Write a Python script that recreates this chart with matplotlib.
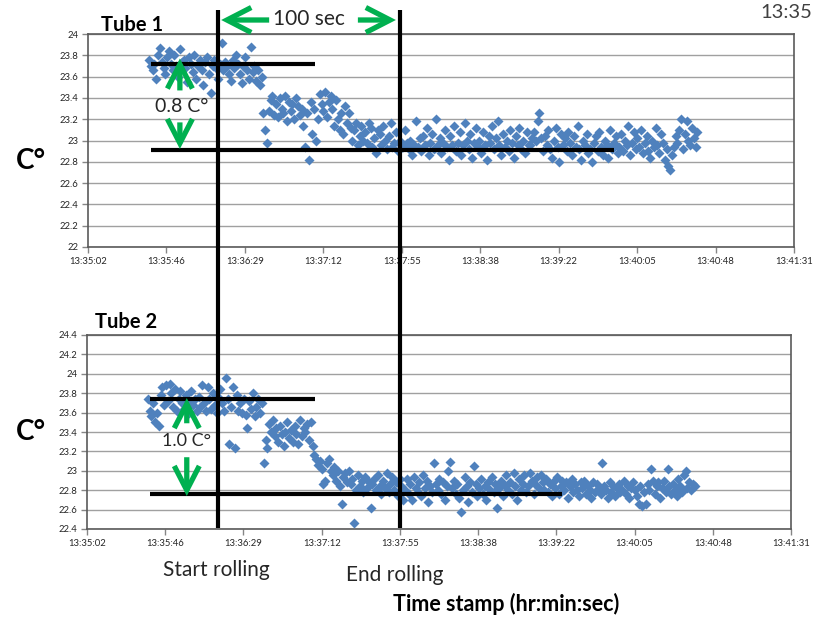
import numpy as np
import matplotlib.pyplot as plt
import matplotlib.transforms as mtransforms
from matplotlib.patches import FancyArrowPatch
from matplotlib.lines import Line2D

plt.rcParams["font.family"] = ["Lato", "DejaVu Sans"]

# time axis: seconds after 13:35:00, one sample per second
t_start = 36
x_ticks = [2.4 + 43.2 * k for k in range(10)]
x_labels = ["13:35:02", "13:35:46", "13:36:29", "13:37:12", "13:37:55",
            "13:38:38", "13:39:22", "13:40:05", "13:40:48", "13:41:31"]

tube1 = [
    23.76, 23.70, 23.66, 23.72, 23.58, 23.80, 23.87, 23.74, 23.68, 23.62,
    23.78, 23.84, 23.72, 23.66, 23.80, 23.70, 23.60, 23.86, 23.74, 23.76,
    23.68, 23.55, 23.78, 23.72, 23.64, 23.80, 23.58, 23.70, 23.76, 23.66,
    23.52, 23.74, 23.78, 23.62, 23.45, 23.70, 23.76, 23.68, 23.58, 23.72,
    23.92, 23.66, 23.74, 23.70, 23.62, 23.56, 23.76, 23.68, 23.80, 23.72,
    23.62, 23.54, 23.70, 23.78, 23.66, 23.58, 23.88, 23.64, 23.70, 23.56,
    23.66, 23.52, 23.60, 23.26, 23.10, 22.98, 23.28, 23.38, 23.42, 23.24,
    23.34, 23.22, 23.40, 23.30, 23.26, 23.42, 23.18, 23.36, 23.28, 23.34,
    23.20, 23.40, 23.32, 23.24, 23.30, 23.14, 22.94, 23.26, 22.82, 23.36,
    23.06, 23.30, 23.00, 23.20, 23.44, 23.34, 23.28, 23.46, 23.22, 23.36,
    23.42, 23.30, 23.14, 23.38, 23.20, 23.10, 23.26, 23.06, 23.32, 23.16,
    23.26, 23.12, 23.00, 23.10, 23.16, 22.96, 23.04, 23.14, 23.00, 23.08,
    22.98, 23.16, 23.12, 22.94, 23.02, 22.88, 23.10, 23.06, 22.96, 23.14,
    23.00, 22.92, 23.04, 23.16, 22.94, 22.98, 23.08, 22.90, 23.00, 22.96,
    22.94, 23.10, 22.98, 22.92, 23.00, 22.86, 22.96, 23.18, 22.94, 23.02,
    22.90, 23.04, 22.96, 23.12, 22.86, 22.98, 23.06, 22.92, 23.20, 22.96,
    23.02, 22.88, 22.98, 23.10, 22.94, 22.82, 23.04, 22.96, 23.14, 22.90,
    22.98, 23.08, 22.86, 22.96, 23.16, 23.00, 22.92, 23.06, 22.84, 22.98,
    23.12, 22.94, 23.00, 22.88, 23.08, 22.96, 22.82, 23.04, 22.98, 23.14,
    22.92, 23.02, 23.18, 22.96, 22.86, 23.06, 22.94, 23.00, 22.90, 23.10,
    22.98, 22.84, 23.04, 22.96, 23.12, 22.92, 23.00, 22.88, 23.08, 22.96,
    22.96, 23.02, 23.08, 23.00, 23.18, 23.26, 23.02, 22.90, 23.04, 22.96,
    23.10, 22.92, 22.84, 23.00, 23.12, 22.94, 22.80, 23.06, 22.96, 23.02,
    22.90, 23.08, 22.98, 22.86, 23.04, 22.94, 23.14, 22.92, 22.82, 23.00,
    22.96, 23.06, 22.88, 22.92, 22.80, 22.98, 23.04, 22.90, 23.08, 22.94,
    22.86, 23.00, 22.96, 22.84, 23.10, 22.92, 22.98, 23.04, 22.88, 22.94,
    23.06, 22.90, 23.00, 22.96, 23.14, 22.86, 22.98, 23.08, 22.92, 23.02,
    22.94, 23.10, 22.88, 22.98, 23.04, 22.90, 22.84, 23.00, 22.94, 23.12,
    22.96, 22.88, 23.06, 22.98, 22.82, 22.92, 22.76, 22.72, 22.86, 22.94,
    23.04, 22.98, 23.10, 23.20, 22.92, 23.06, 23.18, 23.00, 22.96, 23.12,
    23.02, 22.94, 23.08,
]

tube2 = [
    23.74, 23.62, 23.56, 23.70, 23.50, 23.60, 23.46, 23.78, 23.86, 23.68,
    23.88, 23.72, 23.90, 23.80, 23.66, 23.84, 23.62, 23.74, 23.82, 23.70,
    23.64, 23.78, 23.72, 23.60, 23.82, 23.68, 23.74, 23.62, 23.76, 23.66,
    23.88, 23.70, 23.62, 23.86, 23.74, 23.64, 23.80, 23.68, 23.60, 23.76,
    23.84, 23.70, 23.62, 23.96, 23.74, 23.28, 23.66, 23.86, 23.24, 23.78,
    23.62, 23.70, 23.60, 23.74, 23.58, 23.44, 23.72, 23.64, 23.80, 23.56,
    23.66, 23.74, 23.60, 23.70, 23.08, 23.32, 23.24, 23.48, 23.40, 23.52,
    23.36, 23.44, 23.30, 23.46, 23.38, 23.26, 23.40, 23.50, 23.34, 23.42,
    23.30, 23.46, 23.38, 23.28, 23.52, 23.36, 23.44, 23.40, 23.48, 23.32,
    23.50, 23.26, 23.16, 23.12, 23.06, 23.10, 23.02, 22.86, 22.90, 23.08,
    23.12, 23.00, 22.96, 23.04, 22.90, 23.00, 22.84, 22.66, 22.94, 22.98,
    22.88, 23.00, 22.86, 22.92, 22.46, 22.80, 22.96, 22.84, 22.90, 22.78,
    22.94, 22.82, 22.88, 22.62, 22.86, 22.92, 22.80, 22.96, 22.84, 22.76,
    22.90, 22.82, 22.98, 22.78, 22.86, 22.94, 22.80, 22.88, 22.74, 22.92,
    22.84, 22.70, 22.80, 22.92, 22.76, 22.86, 22.70, 22.94, 22.82, 22.78,
    22.88, 22.74, 22.96, 22.82, 22.90, 22.68, 22.84, 22.78, 23.08, 22.86,
    22.80, 22.92, 22.76, 22.88, 22.70, 22.84, 23.00, 23.09, 22.82, 22.90,
    22.76, 22.86, 22.72, 22.58, 22.80, 22.94, 22.84, 22.68, 22.88, 22.78,
    23.05, 22.86, 22.74, 22.82, 22.92, 22.76, 22.84, 22.70, 22.88, 22.80,
    22.94, 22.78, 22.86, 22.62, 22.82, 22.90, 22.74, 22.84, 22.96, 22.80,
    22.88, 22.76, 22.98, 22.84, 22.70, 22.92, 22.80, 22.86, 22.96, 22.78,
    22.84, 22.98, 22.90, 22.76, 22.86, 22.94, 22.82, 22.96, 22.88, 22.80,
    22.92, 22.78, 22.86, 22.74, 22.88, 22.82, 22.94, 22.76, 22.84, 22.90,
    22.80, 22.88, 22.72, 22.84, 22.92, 22.78, 22.86, 22.80, 22.74, 22.88,
    22.82, 22.90, 22.76, 22.84, 22.80, 22.72, 22.88, 22.78, 22.86, 22.82,
    22.76, 23.08, 22.84, 22.80, 22.72, 22.88, 22.78, 22.84, 22.74, 22.82,
    22.86, 22.78, 22.80, 22.90, 22.76, 22.84, 22.72, 22.82, 22.88, 22.80,
    22.74, 22.66, 22.84, 22.64, 22.78, 22.66, 22.86, 22.80, 23.02, 22.90,
    22.76, 22.84, 22.88, 22.72, 22.82, 22.90, 22.78, 23.02, 22.84, 22.76,
    22.86, 22.80, 22.74, 22.92, 22.84, 22.78, 22.96, 23.00, 22.82, 22.88,
    22.80, 22.86, 22.84,
]

# event markers (seconds after 13:35:00) and reference levels
start_roll, end_roll = 75, 175
tube1_levels = [23.72, 22.91]
tube2_levels = [23.74, 22.76]

W, H = 817, 617
fig = plt.figure(figsize=(W / 100, H / 100), dpi=100)


def fx(p):
    return p / W


def fy(p):
    return 1 - p / H


ax1 = fig.add_axes([fx(88), fy(247), fx(794) - fx(88), fy(34) - fy(247)])
ax2 = fig.add_axes([fx(87), fy(529), fx(791) - fx(87), fy(335) - fy(529)])

blue = "#4F81BD"
green = "#00B050"
ink = "#262626"

for ax, vals, ylo, yhi in [(ax1, tube1, 22.0, 24.0), (ax2, tube2, 22.4, 24.4)]:
    t = t_start + np.arange(len(vals))
    ax.plot(t, vals, "D", color=blue, ms=4.6, mec="none", zorder=3, clip_on=False)
    ax.set_xlim(x_ticks[0], x_ticks[-1])
    ax.set_ylim(ylo, yhi)
    yt = np.round(np.arange(ylo, yhi + 0.01, 0.2), 1)
    ax.set_yticks(yt)
    ax.set_yticklabels([f"{v:g}" for v in yt])
    ax.set_xticks(x_ticks)
    ax.set_xticklabels(x_labels)
    ax.grid(axis="y", color="#a0a0a0", lw=1)
    ax.set_axisbelow(True)
    for s in ax.spines.values():
        s.set_color("#5a5a5a")
        s.set_linewidth(1.2)
    ax.tick_params(labelsize=6.8, length=4, width=1, color="#868686",
                   labelcolor=ink, pad=3)

# horizontal reference lines
ax1.plot([37, 127.5], [tube1_levels[0]] * 2, color="k", lw=3, zorder=5, solid_capstyle="butt")
ax1.plot([37, 292], [tube1_levels[1]] * 2, color="k", lw=3, zorder=5, solid_capstyle="butt")
ax2.plot([37, 128.5], [tube2_levels[0]] * 2, color="k", lw=3, zorder=5, solid_capstyle="butt")
ax2.plot([37, 264.5], [tube2_levels[1]] * 2, color="k", lw=3, zorder=5, solid_capstyle="butt")

# vertical rolling markers spanning both panels
bt = mtransforms.blended_transform_factory(ax2.transData, fig.transFigure)
for xv in (start_roll, end_roll):
    fig.add_artist(Line2D([xv, xv], [fy(10), fy(528)], transform=bt, color="k",
                          lw=3, zorder=6, solid_capstyle="butt"))


def garrow(a, b, trans):
    fig.add_artist(FancyArrowPatch(a, b, transform=trans, color=green, lw=3.8,
                                   arrowstyle="->,head_length=1.75,head_width=0.9",
                                   mutation_scale=10, zorder=7, shrinkA=0, shrinkB=0,
                                   joinstyle="miter", capstyle="butt"))


# 100 sec arrows
garrow((start_roll + 28, fy(20)), (start_roll + 1.5, fy(20)), bt)
garrow((end_roll - 23, fy(20)), (end_roll - 2, fy(20)), bt)
fig.text((start_roll + end_roll) / 2, fy(19), "100 sec", transform=bt,
         ha="center", va="center", fontsize=15, color=ink)

# delta arrows
garrow((53, 23.47), (53, 23.77), ax1.transData)
garrow((53, 23.17), (53, 22.92), ax1.transData)
ax1.text(54, 23.32, "0.8 C\u00b0", ha="center", va="center", fontsize=14, color=ink)
garrow((57.5, 23.49), (57.5, 23.75), ax2.transData)
garrow((57.5, 23.14), (57.5, 22.74), ax2.transData)
ax2.text(57.5, 23.31, "1.0 C\u00b0", ha="center", va="center", fontsize=13, color=ink)

# panel titles and labels
fig.text(fx(101), fy(25), "Tube 1", fontsize=14.5, fontweight="bold", va="center")
fig.text(fx(95), fy(322), "Tube 2", fontsize=14.5, fontweight="bold", va="center")
fig.text(fx(16), fy(161), "C\u00b0", fontsize=20, fontweight="bold", va="center")
fig.text(fx(16), fy(432), "C\u00b0", fontsize=20, fontweight="bold", va="center")
fig.text(fx(812), fy(12), "13:35", fontsize=14.5, ha="right", va="center", color="#404040")
fig.text(fx(216), fy(570), "Start rolling", fontsize=15, ha="center", va="center", color=ink)
fig.text(fx(395), fy(575), "End rolling", fontsize=15, ha="center", va="center", color=ink)
fig.text(fx(506), fy(604), "Time stamp (hr:min:sec)", fontsize=15.5, fontweight="bold",
         ha="center", va="center")

fig.savefig("out.png", dpi=100)
